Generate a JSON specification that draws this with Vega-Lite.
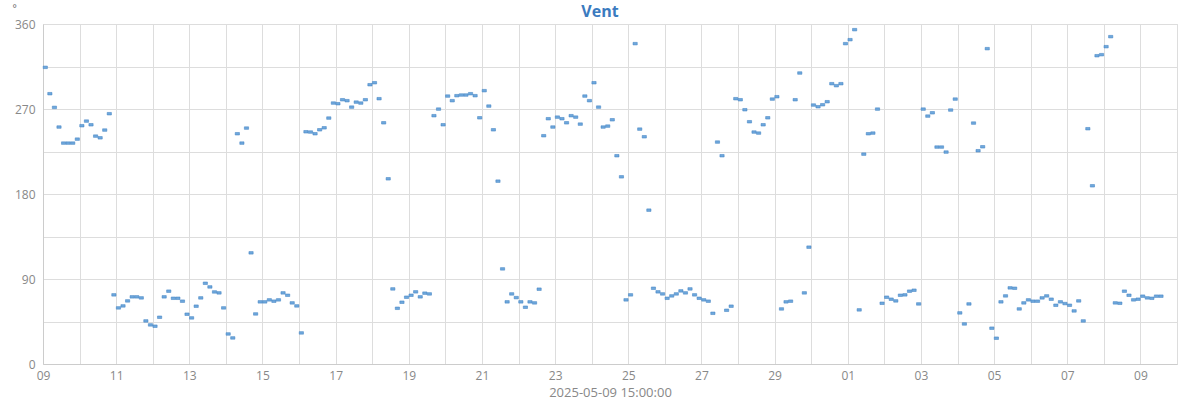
{
"$schema": "https://vega.github.io/schema/vega-lite/v6.json",
"width": 1134, "height": 340,
"autosize": {"type": "none"},
"padding": {"left": 43, "top": 24, "right": 23, "bottom": 36},
"background": "white",
"config": {"font": "Open Sans", "view": {"stroke": "#dddddd"}},
"title": {"text": "Vent", "fontSize": 16, "fontWeight": "bold", "color": "#3b7bbf", "anchor": "middle", "offset": -8, "dy": 9, "dx": -10},
"data": {"values": [
{"t":"2025-04-09T01:30:00","v":314.1},{"t":"2025-04-09T04:30:00","v":286.2},{"t":"2025-04-09T07:30:00","v":271.7},{"t":"2025-04-09T10:30:00","v":250.9},{"t":"2025-04-09T13:30:00","v":233.9},{"t":"2025-04-09T16:30:00","v":233.9},{"t":"2025-04-09T19:30:00","v":233.9},{"t":"2025-04-09T22:30:00","v":238.1},
{"t":"2025-04-10T01:30:00","v":252.3},{"t":"2025-04-10T04:30:00","v":257.2},{"t":"2025-04-10T07:30:00","v":253.3},{"t":"2025-04-10T10:30:00","v":241.3},{"t":"2025-04-10T13:30:00","v":239.5},{"t":"2025-04-10T16:30:00","v":247.7},{"t":"2025-04-10T19:30:00","v":265.0},{"t":"2025-04-10T22:30:00","v":73.2},
{"t":"2025-04-11T01:30:00","v":59.4},{"t":"2025-04-11T04:30:00","v":61.5},{"t":"2025-04-11T07:30:00","v":66.8},{"t":"2025-04-11T10:30:00","v":71.1},{"t":"2025-04-11T13:30:00","v":71.1},{"t":"2025-04-11T16:30:00","v":70.0},{"t":"2025-04-11T19:30:00","v":45.6},{"t":"2025-04-11T22:30:00","v":41.4},
{"t":"2025-04-12T01:30:00","v":40.0},{"t":"2025-04-12T04:30:00","v":49.5},{"t":"2025-04-12T07:30:00","v":71.1},{"t":"2025-04-12T10:30:00","v":77.1},{"t":"2025-04-12T13:30:00","v":69.6},{"t":"2025-04-12T16:30:00","v":69.6},{"t":"2025-04-12T19:30:00","v":66.5},{"t":"2025-04-12T22:30:00","v":52.7},
{"t":"2025-04-13T01:30:00","v":48.8},{"t":"2025-04-13T04:30:00","v":61.2},{"t":"2025-04-13T07:30:00","v":70.0},{"t":"2025-04-13T10:30:00","v":85.5},{"t":"2025-04-13T13:30:00","v":81.6},{"t":"2025-04-13T16:30:00","v":76.3},{"t":"2025-04-13T19:30:00","v":75.3},{"t":"2025-04-13T22:30:00","v":59.4},
{"t":"2025-04-14T01:30:00","v":31.8},{"t":"2025-04-14T04:30:00","v":27.6},{"t":"2025-04-14T07:30:00","v":243.8},{"t":"2025-04-14T10:30:00","v":233.9},{"t":"2025-04-14T13:30:00","v":249.8},{"t":"2025-04-14T16:30:00","v":117.7},{"t":"2025-04-14T19:30:00","v":53.0},{"t":"2025-04-14T22:30:00","v":65.8},
{"t":"2025-04-15T01:30:00","v":65.8},{"t":"2025-04-15T04:30:00","v":67.9},{"t":"2025-04-15T07:30:00","v":66.5},{"t":"2025-04-15T10:30:00","v":67.9},{"t":"2025-04-15T13:30:00","v":75.3},{"t":"2025-04-15T16:30:00","v":72.8},{"t":"2025-04-15T19:30:00","v":64.7},{"t":"2025-04-15T22:30:00","v":61.5},
{"t":"2025-04-16T01:30:00","v":32.9},{"t":"2025-04-16T04:30:00","v":245.9},{"t":"2025-04-16T07:30:00","v":245.6},{"t":"2025-04-16T10:30:00","v":243.8},{"t":"2025-04-16T13:30:00","v":248.0},{"t":"2025-04-16T16:30:00","v":250.1},{"t":"2025-04-16T19:30:00","v":260.4},{"t":"2025-04-16T22:30:00","v":276.3},
{"t":"2025-04-17T01:30:00","v":275.6},{"t":"2025-04-17T04:30:00","v":279.8},{"t":"2025-04-17T07:30:00","v":278.8},{"t":"2025-04-17T10:30:00","v":272.0},{"t":"2025-04-17T13:30:00","v":277.3},{"t":"2025-04-17T16:30:00","v":276.3},{"t":"2025-04-17T19:30:00","v":279.8},{"t":"2025-04-17T22:30:00","v":295.7},
{"t":"2025-04-18T01:30:00","v":297.8},{"t":"2025-04-18T04:30:00","v":280.9},{"t":"2025-04-18T07:30:00","v":255.4},{"t":"2025-04-18T10:30:00","v":196.1},{"t":"2025-04-18T13:30:00","v":79.5},{"t":"2025-04-18T16:30:00","v":59.0},{"t":"2025-04-18T19:30:00","v":65.4},{"t":"2025-04-18T22:30:00","v":70.7},
{"t":"2025-04-19T01:30:00","v":72.8},{"t":"2025-04-19T04:30:00","v":76.4},{"t":"2025-04-19T07:30:00","v":71.1},{"t":"2025-04-19T10:30:00","v":75.0},{"t":"2025-04-19T13:30:00","v":74.2},{"t":"2025-04-19T16:30:00","v":262.9},{"t":"2025-04-19T19:30:00","v":269.9},{"t":"2025-04-19T22:30:00","v":253.3},
{"t":"2025-04-20T01:30:00","v":283.7},{"t":"2025-04-20T04:30:00","v":278.8},{"t":"2025-04-20T07:30:00","v":284.1},{"t":"2025-04-20T10:30:00","v":284.8},{"t":"2025-04-20T13:30:00","v":284.8},{"t":"2025-04-20T16:30:00","v":286.2},{"t":"2025-04-20T19:30:00","v":284.1},{"t":"2025-04-20T22:30:00","v":260.7},
{"t":"2025-04-21T01:30:00","v":289.4},{"t":"2025-04-21T04:30:00","v":273.1},{"t":"2025-04-21T07:30:00","v":248.0},{"t":"2025-04-21T10:30:00","v":193.6},{"t":"2025-04-21T13:30:00","v":100.7},{"t":"2025-04-21T16:30:00","v":65.8},{"t":"2025-04-21T19:30:00","v":74.2},{"t":"2025-04-21T22:30:00","v":70.3},
{"t":"2025-04-22T01:30:00","v":65.8},{"t":"2025-04-22T04:30:00","v":60.1},{"t":"2025-04-22T07:30:00","v":65.8},{"t":"2025-04-22T10:30:00","v":64.7},{"t":"2025-04-22T13:30:00","v":79.2},{"t":"2025-04-22T16:30:00","v":241.7},{"t":"2025-04-22T19:30:00","v":259.7},{"t":"2025-04-22T22:30:00","v":250.9},
{"t":"2025-04-23T01:30:00","v":261.4},{"t":"2025-04-23T04:30:00","v":259.7},{"t":"2025-04-23T07:30:00","v":255.4},{"t":"2025-04-23T10:30:00","v":262.9},{"t":"2025-04-23T13:30:00","v":261.4},{"t":"2025-04-23T16:30:00","v":254.0},{"t":"2025-04-23T19:30:00","v":283.7},{"t":"2025-04-23T22:30:00","v":278.8},
{"t":"2025-04-24T01:30:00","v":297.8},{"t":"2025-04-24T04:30:00","v":272.0},{"t":"2025-04-24T07:30:00","v":250.9},{"t":"2025-04-24T10:30:00","v":251.9},{"t":"2025-04-24T13:30:00","v":258.6},{"t":"2025-04-24T16:30:00","v":220.5},{"t":"2025-04-24T19:30:00","v":198.2},{"t":"2025-04-24T22:30:00","v":67.9},
{"t":"2025-04-25T01:30:00","v":73.2},{"t":"2025-04-25T04:30:00","v":339.2},{"t":"2025-04-25T07:30:00","v":248.7},{"t":"2025-04-25T10:30:00","v":240.6},{"t":"2025-04-25T13:30:00","v":162.9},{"t":"2025-04-25T16:30:00","v":80.2},{"t":"2025-04-25T19:30:00","v":76.4},{"t":"2025-04-25T22:30:00","v":74.2},
{"t":"2025-04-26T01:30:00","v":69.6},{"t":"2025-04-26T04:30:00","v":72.1},{"t":"2025-04-26T07:30:00","v":74.2},{"t":"2025-04-26T10:30:00","v":77.4},{"t":"2025-04-26T13:30:00","v":75.3},{"t":"2025-04-26T16:30:00","v":79.5},{"t":"2025-04-26T19:30:00","v":73.2},{"t":"2025-04-26T22:30:00","v":69.6},
{"t":"2025-04-27T01:30:00","v":67.9},{"t":"2025-04-27T04:30:00","v":66.5},{"t":"2025-04-27T07:30:00","v":53.7},{"t":"2025-04-27T10:30:00","v":235.0},{"t":"2025-04-27T13:30:00","v":220.5},{"t":"2025-04-27T16:30:00","v":56.9},{"t":"2025-04-27T19:30:00","v":61.2},{"t":"2025-04-27T22:30:00","v":280.9},
{"t":"2025-04-28T01:30:00","v":279.8},{"t":"2025-04-28T04:30:00","v":269.2},{"t":"2025-04-28T07:30:00","v":256.5},{"t":"2025-04-28T10:30:00","v":245.6},{"t":"2025-04-28T13:30:00","v":244.5},{"t":"2025-04-28T16:30:00","v":253.3},{"t":"2025-04-28T19:30:00","v":260.7},{"t":"2025-04-28T22:30:00","v":280.5},
{"t":"2025-04-29T01:30:00","v":283.0},{"t":"2025-04-29T04:30:00","v":58.3},{"t":"2025-04-29T07:30:00","v":65.8},{"t":"2025-04-29T10:30:00","v":66.5},{"t":"2025-04-29T13:30:00","v":279.8},{"t":"2025-04-29T16:30:00","v":308.1},{"t":"2025-04-29T19:30:00","v":75.3},{"t":"2025-04-29T22:30:00","v":123.7},
{"t":"2025-04-30T01:30:00","v":274.2},{"t":"2025-04-30T04:30:00","v":272.4},{"t":"2025-04-30T07:30:00","v":274.5},{"t":"2025-04-30T10:30:00","v":277.7},{"t":"2025-04-30T13:30:00","v":296.8},{"t":"2025-04-30T16:30:00","v":294.7},{"t":"2025-04-30T19:30:00","v":296.8},{"t":"2025-04-30T22:30:00","v":339.2},
{"t":"2025-05-01T01:30:00","v":343.4},{"t":"2025-05-01T04:30:00","v":354.0},{"t":"2025-05-01T07:30:00","v":57.3},{"t":"2025-05-01T10:30:00","v":222.2},{"t":"2025-05-01T13:30:00","v":243.8},{"t":"2025-05-01T16:30:00","v":244.5},{"t":"2025-05-01T19:30:00","v":269.9},{"t":"2025-05-01T22:30:00","v":64.3},
{"t":"2025-05-02T01:30:00","v":70.7},{"t":"2025-05-02T04:30:00","v":68.6},{"t":"2025-05-02T07:30:00","v":66.8},{"t":"2025-05-02T10:30:00","v":72.8},{"t":"2025-05-02T13:30:00","v":73.2},{"t":"2025-05-02T16:30:00","v":77.1},{"t":"2025-05-02T19:30:00","v":78.1},{"t":"2025-05-02T22:30:00","v":63.6},
{"t":"2025-05-03T01:30:00","v":269.9},{"t":"2025-05-03T04:30:00","v":262.5},{"t":"2025-05-03T07:30:00","v":266.0},{"t":"2025-05-03T10:30:00","v":229.7},{"t":"2025-05-03T13:30:00","v":229.7},{"t":"2025-05-03T16:30:00","v":224.4},{"t":"2025-05-03T19:30:00","v":268.9},{"t":"2025-05-03T22:30:00","v":280.5},
{"t":"2025-05-04T01:30:00","v":54.1},{"t":"2025-05-04T04:30:00","v":42.4},{"t":"2025-05-04T07:30:00","v":63.6},{"t":"2025-05-04T10:30:00","v":255.1},{"t":"2025-05-04T13:30:00","v":225.8},{"t":"2025-05-04T16:30:00","v":230.0},{"t":"2025-05-04T19:30:00","v":333.9},{"t":"2025-05-04T22:30:00","v":37.9},
{"t":"2025-05-05T01:30:00","v":27.3},{"t":"2025-05-05T04:30:00","v":65.8},{"t":"2025-05-05T07:30:00","v":72.1},{"t":"2025-05-05T10:30:00","v":80.6},{"t":"2025-05-05T13:30:00","v":80.2},{"t":"2025-05-05T16:30:00","v":58.3},{"t":"2025-05-05T19:30:00","v":64.7},{"t":"2025-05-05T22:30:00","v":67.9},
{"t":"2025-05-06T01:30:00","v":66.5},{"t":"2025-05-06T04:30:00","v":66.5},{"t":"2025-05-06T07:30:00","v":70.0},{"t":"2025-05-06T10:30:00","v":72.1},{"t":"2025-05-06T13:30:00","v":68.6},{"t":"2025-05-06T16:30:00","v":62.2},{"t":"2025-05-06T19:30:00","v":65.8},{"t":"2025-05-06T22:30:00","v":64.0},
{"t":"2025-05-07T01:30:00","v":62.2},{"t":"2025-05-07T04:30:00","v":56.2},{"t":"2025-05-07T07:30:00","v":66.8},{"t":"2025-05-07T10:30:00","v":45.6},{"t":"2025-05-07T13:30:00","v":249.1},{"t":"2025-05-07T16:30:00","v":188.7},{"t":"2025-05-07T19:30:00","v":326.4},{"t":"2025-05-07T22:30:00","v":327.5},
{"t":"2025-05-08T01:30:00","v":336.0},{"t":"2025-05-08T04:30:00","v":346.6},{"t":"2025-05-08T07:30:00","v":64.7},{"t":"2025-05-08T10:30:00","v":64.3},{"t":"2025-05-08T13:30:00","v":77.1},{"t":"2025-05-08T16:30:00","v":72.8},{"t":"2025-05-08T19:30:00","v":67.9},{"t":"2025-05-08T22:30:00","v":68.6},
{"t":"2025-05-09T01:30:00","v":71.8},{"t":"2025-05-09T04:30:00","v":70.0},{"t":"2025-05-09T07:30:00","v":69.6},{"t":"2025-05-09T10:30:00","v":71.8},{"t":"2025-05-09T13:30:00","v":71.8}
]},
"mark": {"type": "point", "shape": "M-1,-0.6H1V0.6H-1Z", "filled": true, "size": 18, "fill": "#6fa8dc", "stroke": "#3d7fc0", "strokeWidth": 0.5, "opacity": 1},
"encoding": {
  "x": {"field": "t", "type": "temporal",
    "scale": {"domain": [{"year": 2025, "month": 4, "date": 9}, {"year": 2025, "month": 5, "date": 10}]},
    "axis": {"title": "2025-05-09 15:00:00", "tickCount": {"interval": "day", "step": 1},
      "labelExpr": "date(datum.value) % 2 == 1 ? timeFormat(datum.value, '%d') : ''",
      "grid": true, "gridColor": "#dddddd", "ticks": false, "domainColor": "#cccccc",
      "labelColor": "#888888", "labelFontSize": 12, "labelPadding": 6, "labelFlush": false, "labelOverlap": false,
      "titleColor": "#888888", "titleFontSize": 13, "titleFontWeight": "normal", "titlePadding": 5}},
  "y": {"field": "v", "type": "quantitative",
    "scale": {"domain": [0, 360], "nice": false},
    "axis": {"title": "°", "titleAngle": 0, "titleX": -31, "titleY": -16, "titleAlign": "left", "titleBaseline": "middle",
      "titleColor": "#666666", "titleFontWeight": "normal", "titleFontSize": 10,
      "values": [0, 45, 90, 135, 180, 225, 270, 315, 360],
      "labelExpr": "datum.value % 90 == 0 ? datum.label : ''",
      "grid": true, "gridColor": "#dddddd", "ticks": false, "domainColor": "#cccccc",
      "labelColor": "#888888", "labelFontSize": 12, "labelPadding": 8}}
}
}
